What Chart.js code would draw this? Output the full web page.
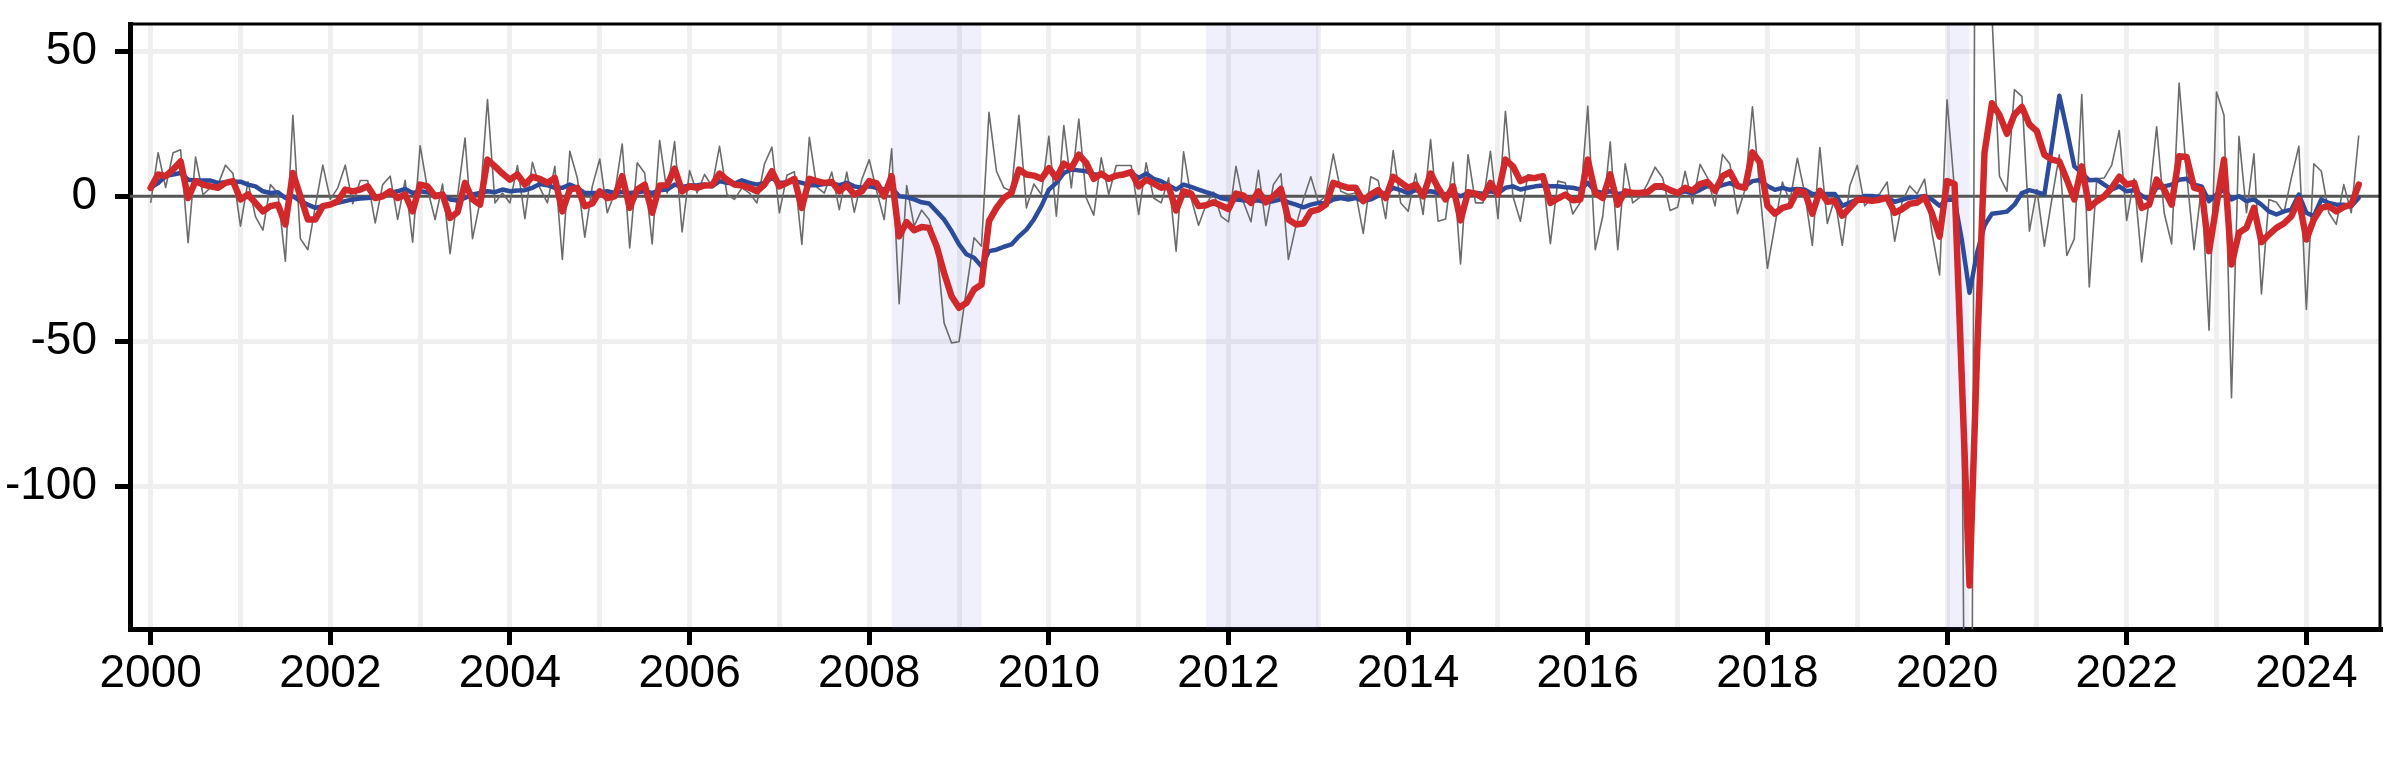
<!DOCTYPE html>
<html>
<head>
<meta charset="utf-8">
<script src="https://cdn.jsdelivr.net/npm/chart.js@4.4.1/dist/chart.umd.min.js"></script>
<style>
  html, body { margin: 0; padding: 0; background: #ffffff; }
  #wrap { width: 2392px; height: 779px; }
</style>
</head>
<body>
<div id="wrap"><canvas id="c" width="2392" height="779"></canvas></div>
<script>
// ---- data (monthly, starting January 2000) ----
const startYear = 2000;

const grayMonthly = [
 -2.3,15,3,15,16,-16,13.5,0.5,3,4,10.7,7.8,
 -10.3,5,-7,-11.7,4,1,-22.4,27.9,-14.6,-18.4,-3.4,10.7,
 -1.1,2.9,10.7,-2.6,5.4,5.4,-9.2,4,6.9,-8,5.5,-15.8,
 17.4,2.3,-8,4.2,-19.8,0,20,-14.6,-2,33.3,-2.3,1.1,
 -2.3,10.6,-7.7,11.7,2.9,-2.3,10.3,-21.8,15.5,6.3,-14.1,3.4,
 12.8,-5.7,1.1,18,-17.8,11.5,8,-16.4,19.2,1.1,18.8,-12.3,
 8.8,1.1,7.5,3.4,17.2,0.6,-1.1,2.9,1.1,-2.3,11.1,16.9,
 -5.7,7.2,8.4,-16.6,20.3,3.1,1.1,8.3,-4.6,8.3,-5.5,5.7,
 12.6,1.7,-8,16.3,-37,3.7,-10.3,-4.8,-8,-17.2,-43.6,-50.5,
 -50.1,-32,-14.3,-17.2,28.9,8.6,2.9,1.7,27.9,-4,4.2,0.6,
 20.6,-6.9,24.3,2.9,26.6,-0.6,-6.5,13.2,0.6,10.6,10.6,10.6,
 -6.3,11.5,-0.6,-2.3,6.3,-18.9,15.3,-0.6,-10,-2.9,1.4,-6.9,
 -8.8,10.3,-2.1,-8.8,8.9,-10.1,4,7.8,-21.8,-10.3,-1.1,6.7,
 -2.1,0,14.5,1.7,0.6,1.1,-12.8,6.7,5.4,-7.7,15.7,-2.3,
 -5.2,7.8,-6.3,19.5,-8.6,-7.8,11.7,-23.3,14.3,-2.3,-2.3,15.5,
 -7.7,29.2,0,-8.6,7.5,6.9,7.1,-16.3,5.2,4.6,-6.1,-2.1,
 31,-18.4,-6.9,18.7,-18.4,11.2,-2.3,-0.3,4.4,10,6.3,-4.9,
 -3.8,8.6,-2.6,11,6.3,-3.3,14.4,11,-6,2.2,30.8,1.5,
 -24.8,-10,4.9,-1.9,13.1,0.8,-16.9,16.8,-9.4,-0.5,-16.9,3.5,
 10.6,-3.3,-0.5,0.8,4.9,-15.5,-1.9,3.5,0.8,5.9,-12.8,-27.1,
 33.2,2,-75,-420,300,90,62,6.9,1.7,36.7,34.4,-12,
 2.3,-17.2,-1,14.3,-20.4,-14.7,35,-31.2,6,6.3,10.7,22.6,
 -8.3,6,-22.6,-1.1,23.9,-5.7,-16.4,39,7.8,-18.4,3.4,-46.1,
 35.9,27.9,-69.4,20.6,-5.7,14.6,-33.6,-1.1,-2.1,-5.7,6.3,17.2,
 -39,11.2,8.6,-5.7,-9.7,4,-5.7,20.9
];

const blueSeries = [
 3,4.5,7,7.5,8,5.7,5.4,5.4,5.4,4.6,4.8,5,
 5,4,3.4,1.7,1.1,1.4,-0.6,0,-1.7,-2.9,-4,-3.4,
 -2.9,-2.3,-1.7,-1.1,-0.8,-0.6,-0.3,0,1.1,1.7,2.5,1.1,
 1.7,1.4,0.6,0.4,-1.1,-1.5,-0.6,0.6,1.1,1.7,1.4,2.3,
 1.7,2,2.1,2.9,4.2,3.8,2.9,2.9,4,2.9,1.1,1.1,
 1.1,1.7,1.1,1.5,1.1,1.4,1.7,1.1,2.1,2.3,4,3.2,
 3.7,3.8,4,3.4,5.2,4.6,4.4,5.5,4.6,4,4.6,6.3,
 4.6,4.8,5.2,4.6,3.8,3.8,4.2,4.4,3.8,4.6,3.4,2.9,
 3.4,2.9,2.3,2.9,0,-0.3,-1.1,-2.1,-2.5,-5.2,-8,-12,
 -16.6,-20,-21.2,-24.1,-18.9,-18.4,-17.4,-16.6,-13.8,-11.5,-8,-3.4,
 2.3,4.6,8,9.2,8.9,8.6,7.5,7.5,6.3,6.9,7.5,8,
 6.3,7.8,6,5.2,3.7,2.3,4,3.2,2.3,1.4,0.6,-0.6,
 -1.1,-1.1,-1.4,-1.7,-1.4,-2.1,-1.7,-1.1,-2.1,-2.9,-3.8,-2.9,
 -2.3,-2.5,-1.1,-0.6,-1.1,-0.6,-1.7,-1.1,0.2,1.1,2.9,2.1,
 1.1,2.1,1.4,1.7,1.1,0.6,1.1,0,1.1,1.1,0.9,1.7,
 1.1,2.9,3.4,2.3,2.9,3.4,3.7,3.4,3.4,3.1,2.9,2.3,
 4.6,1.7,1.1,1.7,0.8,1.1,1.4,1.4,1.7,2.9,2.9,2.1,
 0.9,1.7,1,2.2,3.5,2.9,3.8,4.5,3.5,3.5,5.2,5.6,
 3.5,2.2,2.9,2.2,2.5,2.2,0.8,0.8,0.8,0.8,-3.3,-2.2,
 -1.2,0.1,0.1,-0.3,-0.5,-1.9,-1.2,-0.5,-0.3,0.1,-1.2,-3.3,
 -1.2,-1.2,-15.5,-33.2,-19.6,-10.1,-6,-5.7,-5.3,-2.9,1.1,2.1,
 1.4,0.6,17.2,34.6,22.9,10.3,8,5.5,5.7,4,2.3,3.4,
 1.7,2.1,0.2,-1.1,2.9,3.4,4,5.7,6,4,3.4,-1.7,
 0.6,2.3,-1.1,0,-1.7,-1.1,-2.9,-5.2,-6.3,-5.2,-4.6,0.6,
 -5.7,-6.9,-1.1,-2.3,-2.9,-2.9,-3.4,-0.6
];

const redSeries = [
 2.9,7.5,6.9,9.2,12,-0.6,5.2,4,3.4,2.9,4.6,5.2,
 -1.1,0.6,-2.3,-5.2,-3.4,-2.9,-9.7,8,0,-8,-8,-3.4,
 -2.9,-1.7,2.3,1.7,2.3,3.4,-0.6,0,1.7,-0.6,0.6,-5.2,
 4,3.4,0,0.6,-7.5,-5.5,4.6,-1.1,-2.9,12.6,10.3,7.8,
 5.7,7.5,4,6.7,6,4.6,6.3,-5.2,2.3,2.9,-3.4,-2.5,
 1.7,-0.6,0,6.9,-4,2.3,4,-5.7,3.7,3.8,9.5,1.7,
 3.4,2.9,3.7,3.8,7.8,5.7,4,3.7,2.9,1.7,4,8.6,
 3.4,4.6,6,-4,6,5.2,4.6,4.9,1.7,3.8,0.6,1.7,
 5.2,4.4,0,6.9,-13.8,-8.9,-11.7,-10.6,-10.9,-17.2,-26.4,-34.4,
 -38.4,-36.7,-32.1,-30.4,-8.6,-4,-0.6,1.1,9.2,7.5,7.1,6,
 9.7,6.3,11.2,9.7,14.3,11.5,6,7.8,6,7.1,7.5,8.3,
 3.4,5.7,4.4,2.9,3.4,-4.9,1.7,0.9,-3.4,-3.1,-2.1,-3.2,
 -4.4,0.9,0.2,-2.3,1.7,-2.1,0,2.5,-8,-9.7,-9.4,-5.2,
 -4.6,-2.9,4.6,3.7,2.9,2.9,-1.7,0.6,2.1,-0.6,6.7,4.8,
 2.9,4,0,7.8,2.9,-1.1,3.4,-8.3,1.4,0.9,-0.6,4.6,
 0.6,12.6,10.3,5.2,6.3,6.3,6.9,-2.3,-0.8,0.6,-1.4,-1.1,
 12.6,1.1,-0.6,7.5,-2.9,1.7,1.1,1.1,1.4,3.4,3.4,2.1,
 1.1,2.9,1.9,4.2,4.9,1.9,6.9,8.3,3.5,2.9,15.1,11.7,
 -3.3,-6,-4,-3.3,1.9,1.2,-6,1.9,-1.9,-1.6,-6.7,-4,
 -1.2,-1.2,-1.6,-1.2,-0.5,-5.7,-4.4,-2.6,-2.2,-0.3,-6,-13.9,
 5.2,4.2,-65,-134,-55,15,32,28,21.5,28.1,30.7,24.7,
 22.4,14.3,12.6,12,5.7,-1.1,10.3,-4,-1.7,0,2.9,6.7,
 4,4.6,-4,-2.9,5.7,2.3,-2.9,13.8,13.5,2.9,2.3,-18.9,
 -2.9,12.6,-23.5,-12.6,-10.9,-4,-15.8,-13.2,-10.9,-9.4,-6.9,-1.1,
 -14.9,-8,-4,-3.4,-5.2,-3.7,-2.9,4
];

const xTickYears = [2000,2001,2002,2003,2004,2005,2006,2007,2008,2009,2010,2011,2012,
                    2013,2014,2015,2016,2017,2018,2019,2020,2021,2022,2023,2024];
const yTickValues = [-100, -50, 0, 50];
const shadeStarts = [2008.25, 2011.75, 2020.0];
const shadeEnds   = [2009.25, 2013.0, 2020.25];

// ---- build point lists ----
const toPoints = arr => arr.map((v, i) => ({ x: startYear + i / 12, y: v }));

const FONT = "'Liberation Sans', Arial, Helvetica, sans-serif";

const decorPlugin = {
  id: 'decor',
  beforeDatasetsDraw(chart) {
    const { ctx, chartArea: a, scales: { x, y } } = chart;
    ctx.save();
    ctx.beginPath();
    ctx.rect(a.left, a.top, a.right - a.left, a.bottom - a.top);
    ctx.clip();
    ctx.fillStyle = 'rgba(110,110,240,0.10)';
    shadeStarts.forEach((s, i) => {
      const x0 = x.getPixelForValue(s), x1 = x.getPixelForValue(shadeEnds[i]);
      ctx.fillRect(x0, a.top, x1 - x0, a.bottom - a.top);
    });
    const y0 = y.getPixelForValue(0);
    ctx.strokeStyle = '#555555';
    ctx.lineWidth = 3;
    ctx.beginPath();
    ctx.moveTo(a.left, y0);
    ctx.lineTo(a.right, y0);
    ctx.stroke();
    ctx.restore();
  },
  afterDraw(chart) {
    const { ctx, chartArea: a } = chart;
    ctx.save();
    ctx.strokeStyle = '#000';
    ctx.lineWidth = 3;
    ctx.beginPath();
    ctx.moveTo(a.left, a.top);
    ctx.lineTo(a.right, a.top);
    ctx.lineTo(a.right, a.bottom);
    ctx.stroke();
    ctx.restore();
  }
};

new Chart(document.getElementById('c'), {
  type: 'line',
  data: {
    datasets: [
      { label: 'red', data: toPoints(redSeries), borderColor: '#d0282b', borderWidth: 6.5,
        pointRadius: 0, tension: 0, borderJoinStyle: 'round', borderCapStyle: 'round', order: 1 },
      { label: 'blue', data: toPoints(blueSeries), borderColor: '#2d4b9b', borderWidth: 4.5,
        pointRadius: 0, tension: 0, borderJoinStyle: 'round', borderCapStyle: 'round', order: 2 },
      { label: 'gray', data: toPoints(grayMonthly), borderColor: '#6b6b6b', borderWidth: 1.6,
        pointRadius: 0, tension: 0, borderJoinStyle: 'round', order: 3 }
    ]
  },
  options: {
    responsive: false,
    devicePixelRatio: 1,
    animation: false,
    layout: { padding: { top: 24, right: 12, left: 0, bottom: 0 } },
    plugins: { legend: { display: false }, tooltip: { enabled: false } },
    scales: {
      x: {
        type: 'linear',
        min: 1999.77,
        max: 2024.82,
        afterBuildTicks: s => { s.ticks = xTickYears.map(v => ({ value: v })); },
        afterFit: s => { s.height = 150; s.paddingLeft = 0; s.paddingRight = 0; },
        grid: {
          color: '#efefef',
          lineWidth: 5,
          drawTicks: true,
          tickLength: 16,
          tickWidth: 5,
          tickColor: c => (c.tick && c.tick.value % 2 === 0) ? '#000' : 'rgba(0,0,0,0)'
        },
        border: { display: true, color: '#000', width: 5 },
        ticks: {
          autoSkip: false,
          maxRotation: 0,
          padding: 2,
          color: '#000',
          font: { family: FONT, size: 46 },
          callback: v => (v % 2 === 0 ? String(v) : '')
        }
      },
      y: {
        type: 'linear',
        min: -149,
        max: 59.3,
        afterBuildTicks: s => { s.ticks = yTickValues.map(v => ({ value: v })); },
        afterFit: s => { s.width = 130; s.paddingTop = 0; s.paddingBottom = 0; },
        grid: {
          color: c => (c.tick && c.tick.value === 0) ? 'rgba(0,0,0,0)' : '#efefef',
          lineWidth: 5,
          drawTicks: true,
          tickLength: 15,
          tickWidth: 5,
          tickColor: '#000'
        },
        border: { display: true, color: '#000', width: 5 },
        ticks: {
          padding: 18,
          color: '#000',
          font: { family: FONT, size: 46 },
          callback: v => String(v)
        }
      }
    }
  },
  plugins: [decorPlugin]
});
</script>
</body>
</html>
